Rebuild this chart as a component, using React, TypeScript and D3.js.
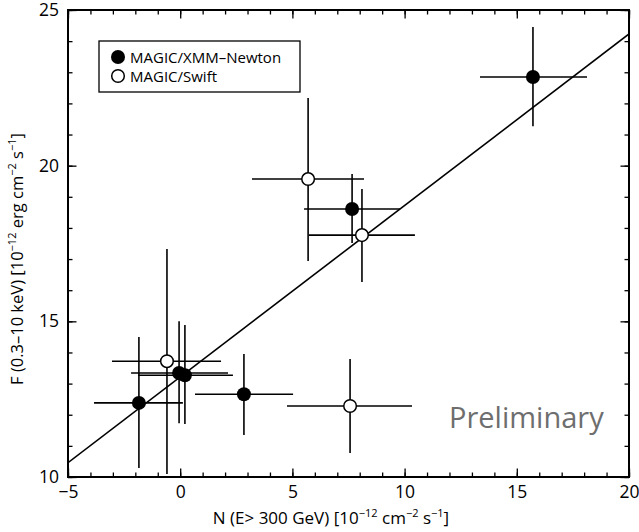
import * as d3 from 'd3';
import {useEffect, useRef} from "react";
import * as React from "react";

// MAGIC/XMM-Newton (filled)
const xmmX = [15.72, 7.66, -0.05, 0.21, -1.84, 2.84];
const xmmXLo = [13.36, 5.52, -2.19, -1.88, -3.84, 0.66];
const xmmXHi = [18.13, 9.8, 2.13, 2.35, 0.12, 5.03];
const xmmY = [22.85, 18.61, 13.34, 13.27, 12.38, 12.66];
const xmmYLo = [21.27, 17.52, 11.73, 11.7, 10.29, 11.35];
const xmmYHi = [24.45, 19.73, 15.0, 14.88, 14.5, 13.95];

// MAGIC/Swift (open)
const swiftX = [5.7, 8.1, -0.59, 7.57];
const swiftXLo = [3.2, 5.74, -3.04, 4.76];
const swiftXHi = [8.19, 10.46, 1.82, 10.33];
const swiftY = [19.57, 17.77, 13.72, 12.28];
const swiftYLo = [16.94, 16.26, 10.1, 10.77];
const swiftYHi = [22.17, 19.25, 17.32, 13.79];

// fitted line, value at x = -5 and x = 20
const fitX = [-5, 20];
const fitY = [10.46, 24.23];

const xTicks = [-5, 0, 5, 10, 15, 20];
const yTicks = [10, 15, 20, 25];

const FONT = "'Open Sans', 'Noto Sans', sans-serif";

export default function App() {
    const svgRef = useRef<SVGSVGElement | null>(null);

    useEffect(() => {
        document.body.style.margin = "0";
        const W = 639, H = 532;
        const m = { top: 10, right: 10, bottom: 55, left: 68 };

        const svg = d3.select(svgRef.current)
            .attr("width", W)
            .attr("height", H)
            .html("");

        const x = d3.scaleLinear().domain([-5, 20]).range([m.left, W - m.right]);
        const y = d3.scaleLinear().domain([10, 25]).range([H - m.bottom, m.top]);

        svg.append("defs").append("clipPath").attr("id", "plotclip")
            .append("rect")
            .attr("x", m.left).attr("y", m.top)
            .attr("width", W - m.left - m.right).attr("height", H - m.top - m.bottom);

        const plot = svg.append("g").attr("clip-path", "url(#plotclip)");

        // fit line
        plot.append("line")
            .attr("x1", x(fitX[0])).attr("y1", y(fitY[0]))
            .attr("x2", x(fitX[1])).attr("y2", y(fitY[1]))
            .attr("stroke", "#000").attr("stroke-width", 1.6);

        const drawSeries = (xs: number[], xlo: number[], xhi: number[],
                            ys: number[], ylo: number[], yhi: number[], filled: boolean) => {
            const pts = xs.map((v, i) => ({ x: v, xl: xlo[i], xh: xhi[i], y: ys[i], yl: ylo[i], yh: yhi[i] }));
            const g = plot.append("g");
            g.selectAll(".eh").data(pts).enter().append("line")
                .attr("x1", d => x(d.xl)).attr("x2", d => x(d.xh))
                .attr("y1", d => y(d.y)).attr("y2", d => y(d.y))
                .attr("stroke", "#000").attr("stroke-width", 1.6);
            g.selectAll(".ev").data(pts).enter().append("line")
                .attr("x1", d => x(d.x)).attr("x2", d => x(d.x))
                .attr("y1", d => y(d.yl)).attr("y2", d => y(d.yh))
                .attr("stroke", "#000").attr("stroke-width", 1.6);
            g.selectAll("circle").data(pts).enter().append("circle")
                .attr("cx", d => x(d.x)).attr("cy", d => y(d.y))
                .attr("r", filled ? 7 : 6.3)
                .attr("fill", filled ? "#000" : "#fff")
                .attr("stroke", "#000").attr("stroke-width", filled ? 0 : 1.5);
        };

        drawSeries(xmmX, xmmXLo, xmmXHi, xmmY, xmmYLo, xmmYHi, true);
        drawSeries(swiftX, swiftXLo, swiftXHi, swiftY, swiftYLo, swiftYHi, false);

        // axes with inward ticks on all four sides
        const styleAxis = (g: any) => {
            g.select(".domain").remove();
            g.selectAll(".tick line").attr("stroke", "#000").attr("stroke-width", 1.3);
        };
        const minorX = d3.range(-5, 21, 1);
        const minorY = d3.range(10, 26, 1);

        const addX = (pos: number, dir: number, labels: boolean) => {
            const mk = (vals: number[], len: number, lab: boolean) => {
                const a = (dir > 0 ? d3.axisBottom(x) : d3.axisTop(x))
                    .tickValues(vals).tickSizeInner(-len).tickSizeOuter(0)
                    .tickFormat(lab ? (d => String(d).replace("-", "\u2212")) : () => "");
                const g = svg.append("g").attr("transform", `translate(0,${pos})`).call(a as any);
                styleAxis(g);
                g.selectAll("text").attr("font-family", FONT).attr("font-size", 17.5).attr("fill", "#000")
                    .attr("dy", "1.05em");
            };
            mk(minorX, 4.5, false);
            mk(xTicks, 8.5, labels);
        };
        const addY = (pos: number, dir: number, labels: boolean) => {
            const mk = (vals: number[], len: number, lab: boolean) => {
                const a = (dir < 0 ? d3.axisLeft(y) : d3.axisRight(y))
                    .tickValues(vals).tickSizeInner(-len).tickSizeOuter(0)
                    .tickFormat(lab ? (d => String(d)) : () => "");
                const g = svg.append("g").attr("transform", `translate(${pos},0)`).call(a as any);
                styleAxis(g);
                g.selectAll("text").attr("font-family", FONT).attr("font-size", 17.5).attr("fill", "#000")
                    .attr("x", -9);
            };
            mk(minorY, 4.5, false);
            mk(yTicks, 8.5, labels);
        };
        addX(H - m.bottom, 1, true);
        addX(m.top, -1, false);
        addY(m.left, -1, true);
        addY(W - m.right, 1, false);

        // frame
        svg.append("rect")
            .attr("x", m.left).attr("y", m.top)
            .attr("width", W - m.left - m.right).attr("height", H - m.top - m.bottom)
            .attr("fill", "none").attr("stroke", "#000").attr("stroke-width", 2);

        // legend
        const lg = svg.append("g");
        lg.append("rect").attr("x", 99).attr("y", 41).attr("width", 201).attr("height", 51)
            .attr("fill", "#fff").attr("stroke", "#000").attr("stroke-width", 1.3);
        const legendItems = [
            { label: "MAGIC/XMM\u2013Newton", filled: true },
            { label: "MAGIC/Swift", filled: false },
        ];
        legendItems.forEach((it, i) => {
            const cy = 57 + i * 19;
            lg.append("circle").attr("cx", 118).attr("cy", cy).attr("r", it.filled ? 7 : 6.3)
                .attr("fill", it.filled ? "#000" : "#fff").attr("stroke", "#000")
                .attr("stroke-width", it.filled ? 0 : 1.5);
            lg.append("text").attr("x", 130).attr("y", cy + 5.5).text(it.label)
                .attr("font-family", FONT).attr("font-size", 15).attr("fill", "#000");
        });

        // Preliminary
        svg.append("text").attr("x", 449).attr("y", 428).text("Preliminary")
            .attr("font-family", FONT).attr("font-size", 29).attr("fill", "#6e6e6e");

        // axis titles
        const sup = (t: any, s: string) => t.append("tspan").attr("dy", -7).attr("font-size", 11).text(s);
        const base = (t: any, s: string) => t.append("tspan").attr("dy", 7).text(s);

        const xt = svg.append("text").attr("x", 331).attr("y", 524)
            .attr("text-anchor", "middle").attr("font-family", FONT).attr("font-size", 17);
        xt.append("tspan").text("N (E> 300 GeV) [10");
        sup(xt, "\u221212"); base(xt, " cm");
        sup(xt, "\u22122"); base(xt, " s");
        sup(xt, "\u22121"); base(xt, "]");

        const yt = svg.append("text").attr("transform", `translate(23,259) rotate(-90)`)
            .attr("text-anchor", "middle").attr("font-family", FONT).attr("font-size", 16.5);
        yt.append("tspan").text("F (0.3\u201310 keV) [10");
        sup(yt, "\u221212"); base(yt, " erg cm");
        sup(yt, "\u22122"); base(yt, " s");
        sup(yt, "\u22121"); base(yt, "]");
    }, []);

    return <svg ref={svgRef}></svg>;
}
